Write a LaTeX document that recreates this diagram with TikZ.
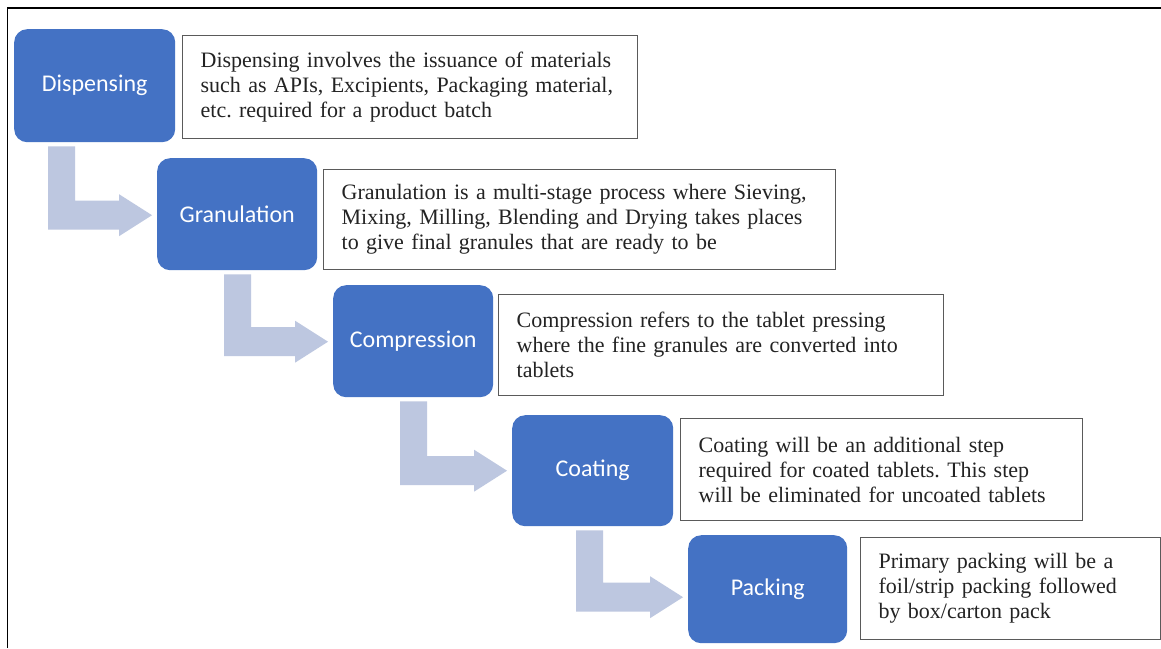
\documentclass[tikz,border=0pt]{standalone}
\usepackage{fontspec}
\setmainfont{Liberation Serif}
\newfontfamily\labelfont{Carlito}
\usetikzlibrary{calc}
\frenchspacing
\definecolor{stepblue}{HTML}{4472C4}
\definecolor{arrowfill}{RGB}{189,199,224}
\definecolor{boxline}{RGB}{90,90,90}
\definecolor{txt}{RGB}{35,35,35}
\newcommand{\bentarr}[4]{%
  \fill[arrowfill] let \p1=(#1.south west), \p2=(#2.west) in
    (\x1+#3pt, \y1-4pt) -- (\x1+#3pt+27pt, \y1-4pt)
    -- (\x1+#3pt+27pt, \y2+#4pt+14.5pt) -- (\x2-38pt, \y2+#4pt+14.5pt)
    -- (\x2-38pt, \y2+#4pt+21pt) -- (\x2-5pt, \y2+#4pt)
    -- (\x2-38pt, \y2+#4pt-21pt) -- (\x2-38pt, \y2+#4pt-14.5pt)
    -- (\x1+#3pt, \y2+#4pt-14.5pt) -- cycle;}
\begin{document}
\begin{tikzpicture}[x=1pt,y=-1pt,
  stepbox/.style={fill=stepblue, rounded corners=13pt, anchor=north west,
    text=white, font=\labelfont\fontsize{24}{28}\selectfont, inner sep=0pt},
  descbox/.style={draw=boxline, line width=1.3pt, fill=white, anchor=north west,
    align=left, inner xsep=18pt, inner ysep=0pt, text=txt,
    font=\frenchspacing\fontsize{22}{25}\selectfont},
  frame/.style={line width=1.6pt, draw=black}]
\useasboundingbox (0,0) rectangle (1161,648);
\fill[white] (0,0) rectangle (1161,648);
\draw[frame] (7.5,648) -- (7.5,8) -- (1161,8);

\node[stepbox, minimum width=161pt, minimum height=113pt] (d) at (14,29) {Dispensing};
\node[stepbox, minimum width=160pt, minimum height=112pt] (g) at (157,158) {Granulation};
\node[stepbox, minimum width=160pt, minimum height=112pt] (c) at (333,285) {Compression};
\node[stepbox, minimum width=161pt, minimum height=111pt] (co) at (512,415) {Coating};
\node[stepbox, minimum width=159pt, minimum height=108pt] (p) at (688,535) {Packing};

\node[descbox, text width=419pt, minimum height=103pt] (t1) at (182,35)
  {Dispensing involves the issuance of materials\\ such as APIs, Excipients, Packaging material,\\ etc. required for a product batch};
\node[descbox, text width=476pt, minimum height=100pt] (t2) at (323,169)
  {Granulation is a multi-stage process where Sieving,\\ Mixing, Milling, Blending and Drying takes places\\ to give final granules that are ready to be};
\node[descbox, text width=409pt, minimum height=101pt] (t3) at (498,294)
  {Compression refers to the tablet pressing\\ where the fine granules are converted into\\ tablets};
\node[descbox, text width=366pt, minimum height=102pt] (t4) at (680,418)
  {Coating will be an additional step\\ required for coated tablets. This step\\ will be eliminated for uncoated tablets};
\node[descbox, text width=264pt, minimum height=102pt] (t5) at (860,537)
  {Primary packing will be a\\ foil/strip packing followed\\ by box/carton pack};

\bentarr{d}{g}{34}{-1}
\bentarr{g}{c}{67}{-0.5}
\bentarr{c}{co}{67}{0}
\bentarr{co}{p}{64}{-8}
\end{tikzpicture}
\end{document}
